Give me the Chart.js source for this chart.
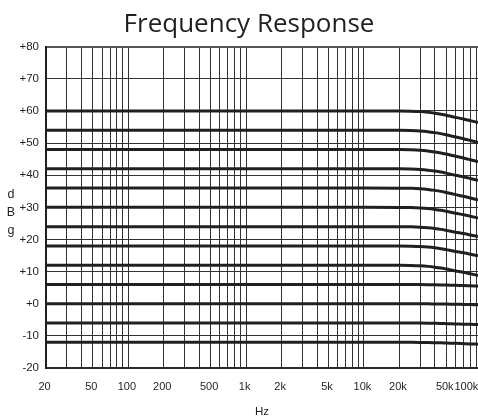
<!DOCTYPE html>
<html>
<head>
<meta charset="utf-8">
<style>
  html, body { margin: 0; padding: 0; background: #ffffff; overflow: hidden; }
  #wrap { width: 478px; height: 418px; position: relative; }
</style>
<script src="https://cdn.jsdelivr.net/npm/chart.js@4.4.1/dist/chart.umd.min.js"></script>
</head>
<body>
<div id="wrap"><canvas id="c" width="478" height="418"></canvas></div>
<script>
// ---------- data ----------
const chartTitle = 'Frequency Response';
const xTitle = 'Hz';
const yTitleLetters = ['d', 'B', 'g'];

const freqs = [20, 1000, 10000, 20000, 25000, 30000, 35000, 40000, 45000, 50000, 60000, 70000, 80000, 93000];

const s60  = [60, 60, 60, 59.98, 59.92, 59.8, 59.58, 59.3, 59.0, 58.65, 58.0, 57.5, 57.0, 56.4];
const s54  = [54, 54, 54, 53.98, 53.92, 53.79, 53.56, 53.26, 52.94, 52.58, 51.9, 51.36, 50.83, 50.2];
const s48  = [48, 48, 48, 47.98, 47.92, 47.79, 47.56, 47.26, 46.94, 46.58, 45.9, 45.36, 44.83, 44.2];
const s42  = [42, 42, 42, 41.98, 41.92, 41.8, 41.58, 41.3, 41.0, 40.65, 40.0, 39.5, 39.0, 38.4];
const s36  = [36, 36, 36, 35.98, 35.92, 35.8, 35.57, 35.28, 34.97, 34.61, 33.95, 33.43, 32.92, 32.3];
const s30  = [30, 30, 30, 29.98, 29.93, 29.82, 29.62, 29.36, 29.08, 28.76, 28.17, 27.71, 27.25, 26.7];
const s24  = [24, 24, 24, 23.98, 23.93, 23.83, 23.64, 23.4, 23.14, 22.84, 22.28, 21.85, 21.42, 20.9];
const s18  = [18, 18, 18, 17.98, 17.93, 17.83, 17.64, 17.4, 17.14, 16.84, 16.28, 15.85, 15.42, 14.9];
const s12  = [12, 12, 12, 11.98, 11.93, 11.82, 11.63, 11.38, 11.11, 10.8, 10.22, 9.78, 9.33, 8.8];
const s6   = [6, 6, 6, 6, 5.99, 5.97, 5.94, 5.9, 5.86, 5.81, 5.72, 5.65, 5.58, 5.5];
const s0   = [0, 0, 0, 0, 0, -0.02, -0.03, -0.06, -0.08, -0.11, -0.17, -0.21, -0.25, -0.3];
const sM6  = [-6, -6, -6, -6, -6.01, -6.03, -6.06, -6.1, -6.14, -6.19, -6.28, -6.35, -6.42, -6.5];
const sM12 = [-12, -12, -12, -12, -12.01, -12.03, -12.07, -12.12, -12.17, -12.23, -12.33, -12.42, -12.5, -12.6];

const seriesList = [s60, s54, s48, s42, s36, s30, s24, s18, s12, s6, s0, sM6, sM12];

const xMin = 20;
const xMax = 93000;
const yMin = -20;
const yMax = 80;
const yStep = 10;

const xLabelValues = [20, 50, 100, 200, 500, 1000, 2000, 5000, 10000, 20000, 50000, 100000];
const xLabelTexts  = ['20', '50', '100', '200', '500', '1k', '2k', '5k', '10k', '20k', '50k', '100k'];

// ---------- styles ----------
const INK = '#231f20';
const GRID = '#333333';
const LABEL_FAMILY = "'Liberation Sans', Arial, sans-serif";
const labelFont = (size) => ({ family: LABEL_FAMILY, size: size, weight: 'normal' });

// grid ticks: 1..9 x 10^k within range
const gridValues = [];
for (let k = 1; k <= 5; k++) {
  for (let m = 1; m <= 9; m++) {
    const v = m * Math.pow(10, k);
    if (v >= xMin && v <= xMax) gridValues.push(v);
  }
}

const datasets = seriesList.map((s, i) => ({
  label: 'curve ' + (i + 1),
  data: freqs.map((f, j) => ({ x: f, y: s[j] })),
  borderColor: INK,
  borderWidth: 3,
  pointRadius: 0,
  fill: false,
  cubicInterpolationMode: 'monotone',
  xAxisID: 'x',
  yAxisID: 'y'
}));

const yTitlePlugin = {
  id: 'yTitleStack',
  afterDraw(chart) {
    const ca = chart.chartArea;
    const ctx = chart.ctx;
    const mid = (ca.top + ca.bottom) / 2;
    ctx.save();
    ctx.fillStyle = INK;
    ctx.font = '12.5px ' + LABEL_FAMILY;
    ctx.textAlign = 'center';
    ctx.textBaseline = 'alphabetic';
    yTitleLetters.forEach((ch, i) => {
      ctx.fillText(ch, ca.left - 35, mid - 9.5 + i * 18);
    });
    ctx.restore();
  }
};

new Chart(document.getElementById('c'), {
  type: 'line',
  data: { datasets },
  options: {
    responsive: false,
    animation: false,
    events: [],
    layout: { padding: { left: 20, right: 0, top: 0, bottom: 0 } },
    plugins: {
      legend: { display: false },
      tooltip: { enabled: false },
      title: {
        display: true,
        text: chartTitle,
        color: INK,
        font: { family: "'Open Sans', 'Noto Sans', sans-serif", size: 26, weight: 'normal' },
        padding: { top: 9, bottom: 6.5 }
      }
    },
    scales: {
      x: {
        type: 'logarithmic',
        position: 'bottom',
        min: xMin,
        max: xMax,
        weight: 1,
        afterBuildTicks: (scale) => { scale.ticks = gridValues.map(v => ({ value: v })); },
        ticks: { display: false, autoSkip: false },
        grid: { display: true, color: GRID, lineWidth: 1, drawTicks: false },
        border: { display: true, color: '#2a2a2a', width: 2 }
      },
      xl: {
        type: 'logarithmic',
        position: 'bottom',
        min: xMin,
        max: xMax,
        weight: 2,
        afterBuildTicks: (scale) => {
          scale.ticks = xLabelValues.map(v => ({ value: v > xMax ? xMax / 1.22 : v }));
        },
        afterFit: (scale) => {
          scale.height = 50;
          scale.paddingLeft = 0;
          scale.paddingRight = 0;
        },
        ticks: {
          autoSkip: false,
          maxRotation: 0,
          padding: 12.5,
          labelOffset: -1.5,
          color: INK,
          font: labelFont(11),
          callback: (v, i) => xLabelTexts[i]
        },
        grid: { display: false, drawTicks: false },
        border: { display: false },
        title: {
          display: true,
          text: xTitle,
          color: INK,
          font: { family: LABEL_FAMILY, size: 11.5, lineHeight: 1.0 },
          padding: { top: 0, bottom: 0 }
        }
      },
      y: {
        type: 'linear',
        min: yMin,
        max: yMax,
        afterFit: (scale) => { scale.width = 26; },
        ticks: {
          stepSize: yStep,
          padding: 7,
          color: INK,
          font: labelFont(11.5),
          callback: (v) => (v >= 0 ? '+' + v : String(v))
        },
        grid: {
          color: (c) => (c.tick && c.tick.value === yMax ? '#555555' : GRID),
          lineWidth: (c) => (c.tick && c.tick.value === yMax ? 2 : 1),
          drawTicks: false
        },
        border: { display: true, color: INK, width: 2 }
      }
    }
  },
  plugins: [yTitlePlugin]
});
</script>
</body>
</html>
